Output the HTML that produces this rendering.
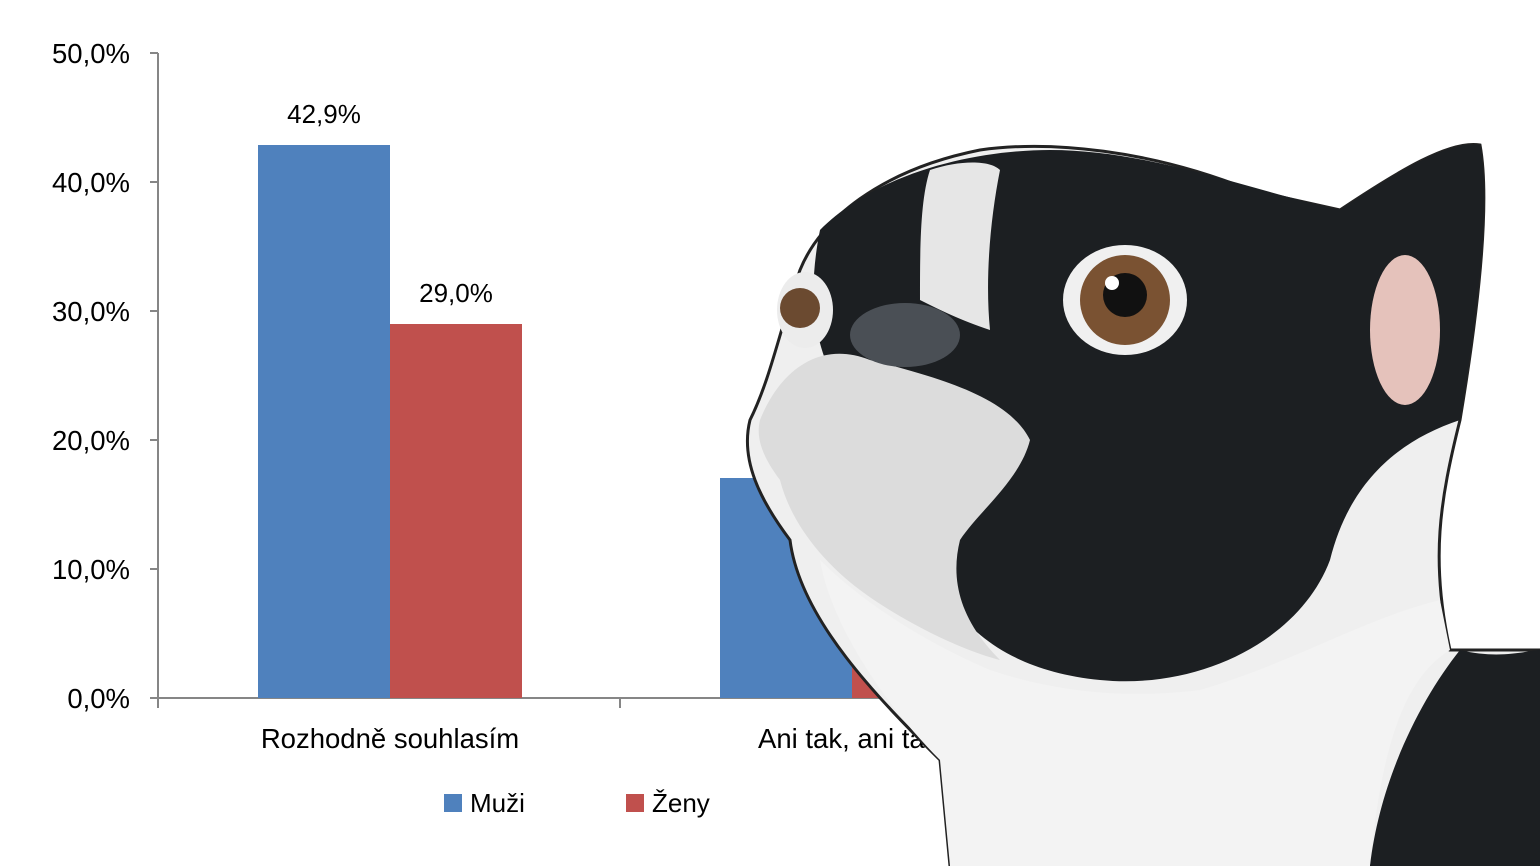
<!DOCTYPE html>
<html><head><meta charset="utf-8"><style>
html,body{margin:0;padding:0;background:#fff;}
body{width:1540px;height:866px;overflow:hidden;position:relative;font-family:"Liberation Sans",sans-serif;}
</style></head><body>
<svg width="1540" height="866" viewBox="0 0 1540 866" xmlns="http://www.w3.org/2000/svg" style="position:absolute;left:0;top:0">
<g font-family="Liberation Sans, sans-serif" font-size="25" fill="#000">
<line x1="158" y1="53" x2="158" y2="698" stroke="#868686" stroke-width="2"/>
<line x1="158" y1="698" x2="1540" y2="698" stroke="#868686" stroke-width="2"/>
<g stroke="#868686" stroke-width="2">
<line x1="150" y1="53" x2="158" y2="53"/><line x1="150" y1="182" x2="158" y2="182"/>
<line x1="150" y1="311" x2="158" y2="311"/><line x1="150" y1="440" x2="158" y2="440"/>
<line x1="150" y1="569" x2="158" y2="569"/><line x1="150" y1="698" x2="158" y2="698"/>
<line x1="158" y1="698" x2="158" y2="708"/><line x1="620" y1="698" x2="620" y2="708"/>
<line x1="1082" y1="698" x2="1082" y2="708"/>
</g>
<g text-anchor="end" font-size="27.5">
<text x="130" y="63">50,0%</text><text x="130" y="192">40,0%</text>
<text x="130" y="321">30,0%</text><text x="130" y="450">20,0%</text>
<text x="130" y="579">10,0%</text><text x="130" y="708">0,0%</text>
</g>
<rect x="258" y="145" width="132" height="553" fill="#4f81bd"/>
<rect x="390" y="324" width="132" height="374" fill="#c0504d"/>
<rect x="720" y="478" width="132" height="220" fill="#4f81bd"/>
<rect x="852" y="560" width="132" height="138" fill="#c0504d"/>
<text x="324" y="123" text-anchor="middle" font-size="26">42,9%</text>
<text x="456" y="302" text-anchor="middle" font-size="26">29,0%</text>
<text x="390" y="748" text-anchor="middle" font-size="27.5">Rozhodně souhlasím</text>
<text x="758" y="748" font-size="27.5">Ani tak, ani tak</text>
<rect x="444" y="794" width="18" height="18" fill="#4f81bd"/>
<text x="470" y="812" font-size="26">Muži</text>
<rect x="626" y="794" width="18" height="18" fill="#c0504d"/>
<text x="652" y="812" font-size="26">Ženy</text>
</g>
<!-- dog approximation -->
<path d="M950,866 L940,760 C880,700 800,620 790,540 C760,500 740,460 750,420 C770,380 780,330 800,270 C820,220 880,170 980,150 C1050,140 1150,150 1250,190 L1340,210 C1400,170 1450,140 1480,145 C1490,200 1480,300 1460,420 C1440,500 1430,560 1450,650 L1540,650 L1540,866 Z" fill="#efefef" stroke="#222" stroke-width="3"/>
<path d="M820,230 C880,170 980,150 1050,150 C1150,150 1250,190 1340,210 C1400,170 1450,140 1480,145 C1490,200 1480,300 1460,420 C1400,440 1350,480 1330,560 C1300,640 1200,690 1100,680 C1000,670 950,620 930,560 C900,500 880,460 860,420 C830,380 800,330 820,230 Z" fill="#1c1f22"/>
<path d="M930,170 C960,160 990,160 1000,170 C990,220 985,280 990,330 C960,320 940,310 920,300 C920,250 920,200 930,170 Z" fill="#e6e6e6"/>
<path d="M760,420 C780,370 820,340 870,360 C950,380 1010,400 1030,440 C1020,480 980,510 960,540 C950,580 960,620 1000,660 C960,650 900,620 860,590 C820,560 790,520 780,480 C765,460 755,440 760,420 Z" fill="#dcdcdc"/>
<path d="M820,560 C860,600 920,640 990,670 C1050,690 1120,700 1200,690 C1300,660 1360,620 1440,600 L1450,650 C1400,680 1380,760 1370,866 L950,866 L940,760 C880,700 830,620 820,560 Z" fill="#f3f3f3"/>
<path d="M1460,650 C1500,660 1530,650 1540,650 L1540,866 L1370,866 C1380,780 1420,700 1460,650 Z" fill="#1c1f22"/>
<ellipse cx="1405" cy="330" rx="35" ry="75" fill="#e5c2bb"/>
<ellipse cx="1125" cy="300" rx="62" ry="55" fill="#f0f0f0"/>
<circle cx="1125" cy="300" r="45" fill="#7a5232"/>
<circle cx="1125" cy="295" r="22" fill="#111"/>
<circle cx="1112" cy="283" r="7" fill="#fff"/>
<ellipse cx="805" cy="310" rx="28" ry="38" fill="#ececec"/>
<circle cx="800" cy="308" r="20" fill="#6b4a30"/>
<ellipse cx="905" cy="335" rx="55" ry="32" fill="#4a4f55"/>
</svg>
</body></html>
